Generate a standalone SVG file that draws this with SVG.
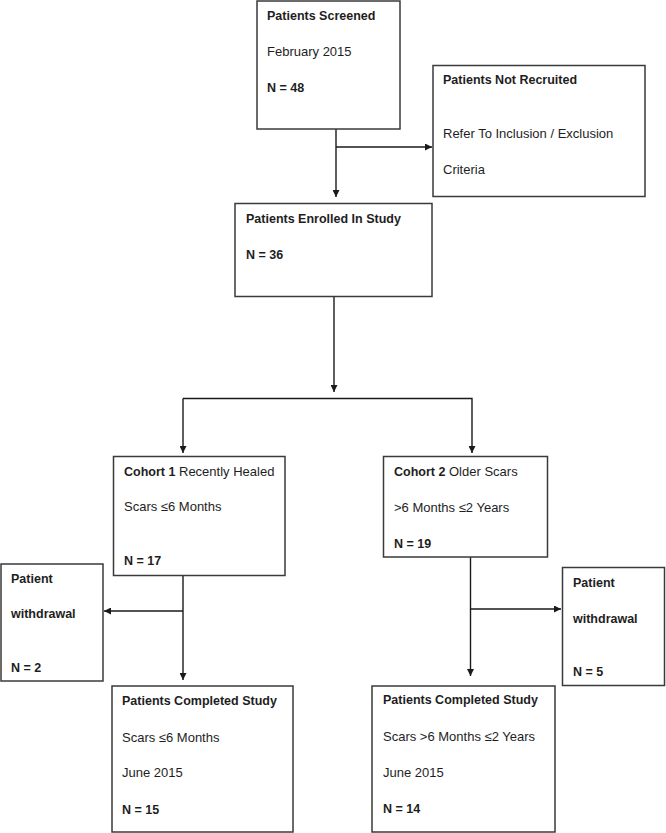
<svg xmlns="http://www.w3.org/2000/svg" width="666" height="833" viewBox="0 0 666 833">
<defs>
<marker id="arr" viewBox="0 0 10 10" refX="10" refY="5" markerWidth="7" markerHeight="7" markerUnits="userSpaceOnUse" orient="auto">
<path d="M0,0 L10,5 L0,10 Z" fill="#1a1a1a"/>
</marker>
</defs>
<style>
.box{fill:#fff;stroke:#3a3a3a;stroke-width:1.5}
.t{font-family:"Liberation Sans",Arial,sans-serif;font-size:13px;fill:#1e1e1e}
.b{font-weight:bold;font-size:12.5px}
.c{fill:none;stroke:#1a1a1a;stroke-width:1.4}
</style>
<rect width="666" height="833" fill="#fff"/>
<g id="connectors">
<line class="c" x1="336" y1="129" x2="336" y2="197" marker-end="url(#arr)"/>
<line class="c" x1="336" y1="147" x2="432" y2="147" marker-end="url(#arr)"/>
<line class="c" x1="334" y1="297" x2="334" y2="392" marker-end="url(#arr)"/>
<polyline class="c" points="183,398.5 472,398.5 472,453" marker-end="url(#arr)"/>
<line class="c" x1="183" y1="398.5" x2="183" y2="453" marker-end="url(#arr)"/>
<line class="c" x1="183" y1="575" x2="183" y2="680" marker-end="url(#arr)"/>
<line class="c" x1="183" y1="611" x2="104" y2="611" marker-end="url(#arr)"/>
<line class="c" x1="470.5" y1="557" x2="470.5" y2="676" marker-end="url(#arr)"/>
<line class="c" x1="470.5" y1="609" x2="561" y2="609" marker-end="url(#arr)"/>
</g>
<g id="screened">
<rect class="box" x="257" y="1" width="143" height="128"/>
<text class="t b" x="267" y="20">Patients Screened</text>
<text class="t" x="267" y="56">February 2015</text>
<text class="t b" x="267" y="92">N = 48</text>
</g>
<g id="not-recruited">
<rect class="box" x="433" y="65.5" width="212" height="131"/>
<text class="t b" x="443" y="84">Patients Not Recruited</text>
<text class="t" x="443" y="138">Refer To Inclusion / Exclusion</text>
<text class="t" x="443" y="174">Criteria</text>
</g>
<g id="enrolled">
<rect class="box" x="235" y="203.5" width="197" height="93"/>
<text class="t b" x="246" y="223">Patients Enrolled In Study</text>
<text class="t b" x="246" y="259">N = 36</text>
</g>
<g id="cohort1">
<rect class="box" x="113.5" y="456.5" width="171.5" height="119"/>
<text class="t" x="124" y="476"><tspan class="b">Cohort 1</tspan> Recently Healed</text>
<text class="t" x="124" y="511">Scars ≤6 Months</text>
<text class="t b" x="124" y="565">N = 17</text>
</g>
<g id="cohort2">
<rect class="box" x="383.5" y="456.5" width="164" height="100.5"/>
<text class="t" x="394" y="476"><tspan class="b">Cohort 2</tspan> Older Scars</text>
<text class="t" x="394" y="512">&gt;6 Months ≤2 Years</text>
<text class="t b" x="394" y="548">N = 19</text>
</g>
<g id="withdrawal1">
<rect class="box" x="1" y="564" width="102" height="117"/>
<text class="t b" x="11" y="583">Patient</text>
<text class="t b" x="11" y="618">withdrawal</text>
<text class="t b" x="11" y="672">N = 2</text>
</g>
<g id="withdrawal2">
<rect class="box" x="562.5" y="567.5" width="102" height="118"/>
<text class="t b" x="573" y="587">Patient</text>
<text class="t b" x="573" y="623">withdrawal</text>
<text class="t b" x="573" y="676">N = 5</text>
</g>
<g id="completed1">
<rect class="box" x="112" y="686" width="181" height="146"/>
<text class="t b" x="122" y="705">Patients Completed Study</text>
<text class="t" x="122" y="742">Scars ≤6 Months</text>
<text class="t" x="122" y="777">June 2015</text>
<text class="t b" x="122" y="814">N = 15</text>
</g>
<g id="completed2">
<rect class="box" x="372" y="686" width="183" height="146"/>
<text class="t b" x="383" y="704">Patients Completed Study</text>
<text class="t" x="383" y="741">Scars &gt;6 Months ≤2 Years</text>
<text class="t" x="383" y="777">June 2015</text>
<text class="t b" x="383" y="813">N = 14</text>
</g>
</svg>
